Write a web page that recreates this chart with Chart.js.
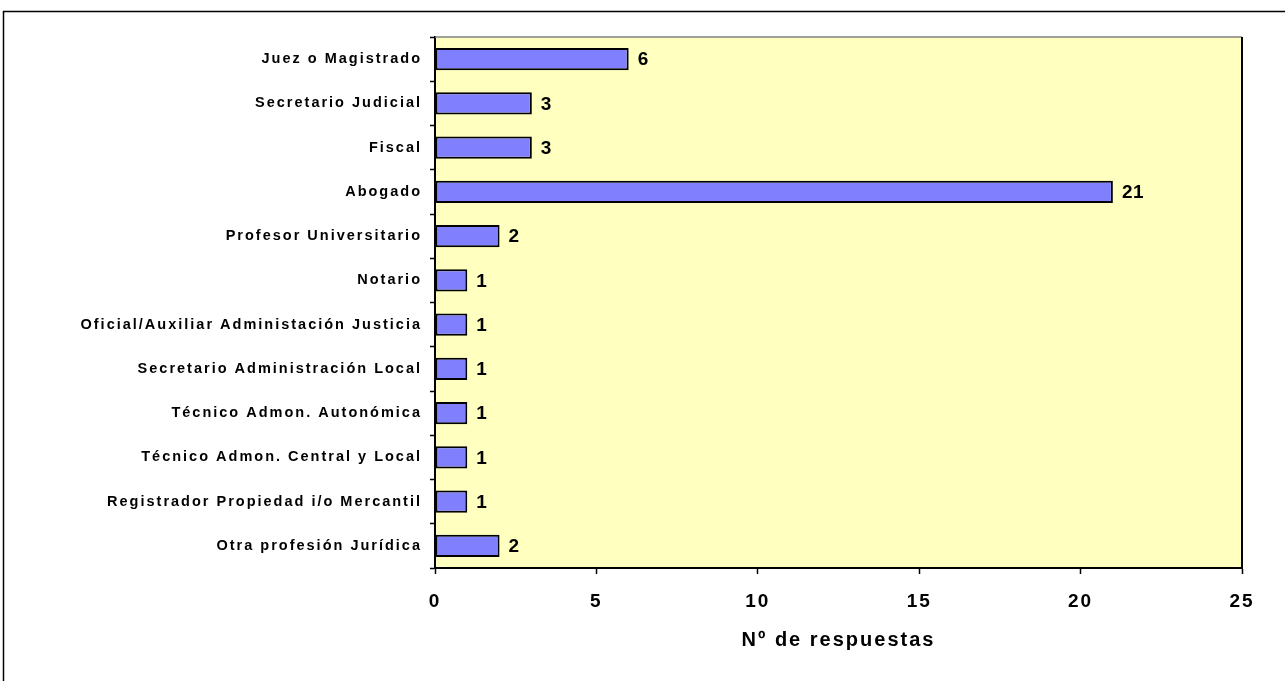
<!DOCTYPE html>
<html lang="es">
<head>
  <meta charset="UTF-8">
  <title>Nº de respuestas por profesión</title>
  <script src="https://cdn.jsdelivr.net/npm/chart.js"></script>
  <style>
    body { margin: 0; background: #fff; }
    #wrap { width: 1285px; height: 681px; }
  </style>
</head>
<body>
  <div id="wrap">
    <canvas id="myChart" width="1285" height="681"></canvas>
  </div>

  <script>
    // Categories and values
    const profesiones = [
      'Juez o Magistrado',
      'Secretario Judicial',
      'Fiscal',
      'Abogado',
      'Profesor Universitario',
      'Notario',
      'Oficial/Auxiliar Administación Justicia',
      'Secretario Administración Local',
      'Técnico Admon. Autonómica',
      'Técnico Admon. Central y Local',
      'Registrador Propiedad i/o Mercantil',
      'Otra profesión Jurídica'
    ];
    const respuestas = [6, 3, 3, 21, 2, 1, 1, 1, 1, 1, 1, 2];
    const xTicks = [0, 5, 10, 15, 20, 25];

    const FONT = '"Liberation Sans", Arial, sans-serif';

    // Yellow plot background, frame and outer border.
    // The canvas letterSpacing is switched between layers:
    // y axis (z 0) -> datasets -> x axis (z 1)
    const framePlugin = {
      id: 'frame',
      beforeDraw(chart) {
        const { ctx, chartArea: a } = chart;
        ctx.save();
        ctx.fillStyle = '#FFFFC0';
        ctx.fillRect(a.left, a.top, a.right - a.left, a.bottom - a.top);
        // outer border (only top and left are visible)
        ctx.strokeStyle = '#000';
        ctx.lineWidth = 1.5;
        ctx.beginPath();
        ctx.moveTo(3.5, 681);
        ctx.lineTo(3.5, 11.5);
        ctx.lineTo(1285, 11.5);
        ctx.stroke();
        ctx.restore();
        ctx.letterSpacing = '2px';
      },
      beforeDatasetsDraw(chart) {
        const { ctx, chartArea: a } = chart;
        ctx.letterSpacing = '0px';
        ctx.save();
        ctx.strokeStyle = '#808080';
        ctx.lineWidth = 1.5;
        ctx.beginPath();
        ctx.moveTo(a.left, a.top);
        ctx.lineTo(a.right, a.top);
        ctx.stroke();
        ctx.strokeStyle = '#000';
        ctx.lineWidth = 2;
        ctx.beginPath();
        ctx.moveTo(a.right, a.top);
        ctx.lineTo(a.right, a.bottom);
        ctx.stroke();
        ctx.restore();
      }
    };

    // Value labels at the end of each bar
    const valueLabels = {
      id: 'valueLabels',
      afterDatasetsDraw(chart) {
        const { ctx } = chart;
        ctx.save();
        ctx.letterSpacing = '0.5px';
        ctx.font = 'bold 19px ' + FONT;
        ctx.fillStyle = '#000';
        ctx.textAlign = 'left';
        ctx.textBaseline = 'middle';
        chart.getDatasetMeta(0).data.forEach((bar, i) => {
          ctx.fillText(String(respuestas[i]), bar.x + 9, bar.y + 1);
        });
        ctx.restore();
        ctx.letterSpacing = '3.5px';
      }
    };

    const ctx = document.getElementById('myChart').getContext('2d');

    const myChart = new Chart(ctx, {
      type: 'bar',
      data: {
        labels: profesiones,
        datasets: [{
          data: respuestas,
          backgroundColor: '#8080FF',
          borderColor: '#000',
          borderWidth: 2,
          borderSkipped: false,
          barPercentage: 1,
          categoryPercentage: 0.5
        }]
      },
      options: {
        indexAxis: 'y',
        responsive: false,
        animation: false,
        layout: { padding: { top: 37, right: 43, left: 0, bottom: 0 } },
        plugins: {
          legend: { display: false },
          tooltip: { enabled: false }
        },
        scales: {
          x: {
            z: 1,
            min: 0,
            max: 25,
            afterBuildTicks(scale) {
              scale.ticks = xTicks.map(v => ({ value: v }));
            },
            afterFit(scale) { scale.height = 113; },
            border: { display: true, color: '#000', width: 2 },
            grid: {
              drawOnChartArea: false,
              drawTicks: true,
              tickLength: 6,
              tickColor: '#000',
              tickWidth: 1.5
            },
            ticks: {
              color: '#000',
              padding: 16,
              font: { family: FONT, size: 19, weight: 'bold' }
            },
            title: {
              display: true,
              text: 'Nº de respuestas',
              color: '#000',
              font: { family: FONT, size: 20, weight: 'bold' },
              padding: { top: 0, bottom: 29 }
            }
          },
          y: {
            afterFit(scale) { scale.width = 435; },
            border: { display: true, color: '#000', width: 2 },
            grid: {
              offset: true,
              drawOnChartArea: false,
              drawTicks: true,
              tickLength: 5,
              tickColor: '#000',
              tickWidth: 1.5
            },
            ticks: {
              color: '#000',
              padding: 8,
              autoSkip: false,
              font: { family: FONT, size: 14.5, weight: 'bold' }
            }
          }
        }
      },
      plugins: [framePlugin, valueLabels]
    });
  </script>
</body>
</html>
